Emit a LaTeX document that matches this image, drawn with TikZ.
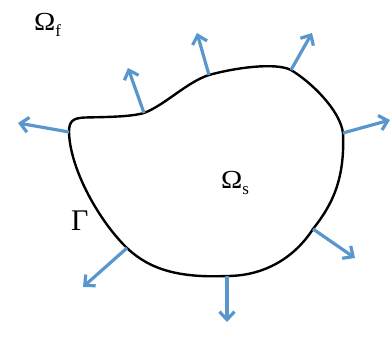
\documentclass[tikz,border=0pt]{standalone}
\usepackage{fontspec}
\setmainfont{Liberation Serif}
\usetikzlibrary{arrows.meta}
\definecolor{normblue}{RGB}{88,150,205}
\tikzset{
  normal/.style={draw=normblue, line width=3.2pt, -{Straight Barb[length=8pt,width=15pt,line width=3.2pt]}},
  boundary/.style={draw=black, line width=2.4pt},
  lbl/.style={inner sep=0pt, text=black},
}
\begin{document}
\begin{tikzpicture}[x=1pt,y=-1pt]
\useasboundingbox (0,0) rectangle (392,337);
% boundary curve
\draw[boundary] (69,132) .. controls (69,121) and (73,118) .. (85,117.5)
  .. controls (105,117) and (130,117) .. (144,113)
  .. controls (165,105) and (187,82) .. (209,75)
  .. controls (234,68) and (275,62) .. (291,70)
  .. controls (311,82) and (340,110) .. (343,133)
  .. controls (345,180) and (332,205) .. (313,229)
  .. controls (295,257) and (265,276) .. (227,276)
  .. controls (180,278) and (150,270) .. (127,248)
  .. controls (100,222) and (70,170) .. (69,132) -- cycle;
% anchor points on the boundary
\coordinate (b1) at (69,132);
\coordinate (b2) at (144,113);
\coordinate (b3) at (209,75);
\coordinate (b4) at (291,70);
\coordinate (b5) at (343,133);
\coordinate (b6) at (313,229);
\coordinate (b7) at (227,276);
\coordinate (b8) at (127,248);
% arrow tips
\coordinate (t1) at (18,123);
\coordinate (t2) at (128,68);
\coordinate (t3) at (197,33);
\coordinate (t4) at (312,33);
\coordinate (t5) at (390,120);
\coordinate (t6) at (355,258);
\coordinate (t7) at (227,322);
\coordinate (t8) at (83,287);
\foreach \i in {1,...,8} \draw[normal] (b\i) -- (t\i);
% labels
\node[lbl, anchor=base west] (omf) at (34,31) {\fontsize{26}{26}\selectfont\scalebox{1.1}[1]{Ω}\raisebox{-6pt}{\fontsize{17}{17}\selectfont f}};
\node[lbl, anchor=base west] (oms) at (221,189) {\fontsize{26}{26}\selectfont\scalebox{1.1}[1]{Ω}\raisebox{-6pt}{\fontsize{17}{17}\selectfont s}};
\node[lbl, anchor=base west] (gam) at (71,231) {\fontsize{30}{30}\selectfont Γ};
\end{tikzpicture}
\end{document}
